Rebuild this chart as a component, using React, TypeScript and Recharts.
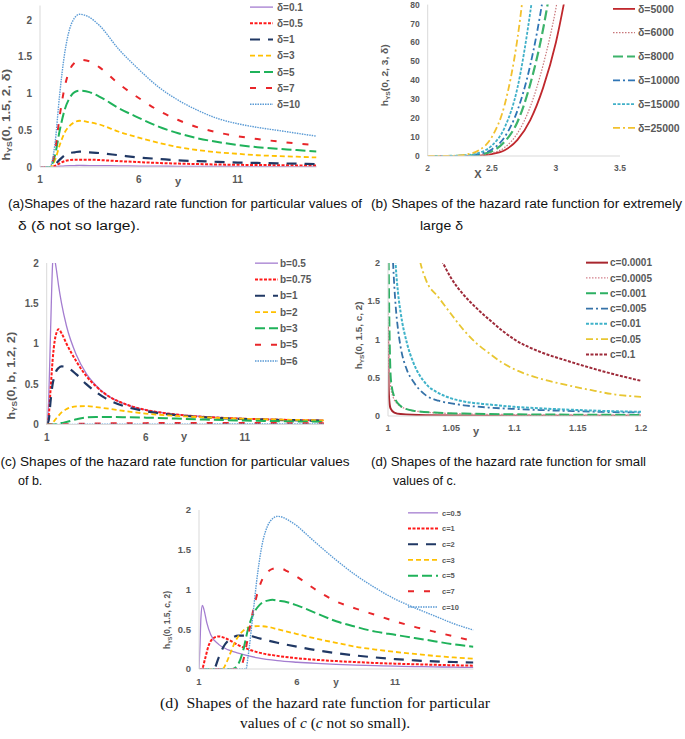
import { LineChart, Line, XAxis, YAxis, Legend, Label } from "recharts";

// ---------- (a) delta not so large ----------
const aX = [1, 1.5, 1.75, 2, 2.25, 2.5, 2.75, 3, 3.5, 4, 5, 6, 7, 8, 9, 10, 11, 12, 13, 14, 15];
const aD01 = [0, 0, 0.003, 0.01, 0.016, 0.019, 0.02, 0.021, 0.02, 0.019, 0.016, 0.013, 0.011, 0.009, 0.008, 0.007, 0.006, 0.0055, 0.005, 0.0045, 0.004];
const aD05 = [0, 0, 0.015, 0.05, 0.08, 0.095, 0.1, 0.1, 0.1, 0.095, 0.08, 0.067, 0.055, 0.046, 0.04, 0.034, 0.03, 0.027, 0.025, 0.022, 0.02];
const aD1 = [0, 0, 0.03, 0.1, 0.16, 0.19, 0.2, 0.21, 0.2, 0.19, 0.16, 0.13, 0.11, 0.09, 0.08, 0.07, 0.06, 0.055, 0.05, 0.045, 0.04];
const aD3 = [0, 0, 0.09, 0.3, 0.47, 0.56, 0.61, 0.63, 0.61, 0.58, 0.48, 0.4, 0.33, 0.27, 0.23, 0.2, 0.18, 0.16, 0.15, 0.14, 0.13];
const aD5 = [0, 0, 0.15, 0.5, 0.78, 0.94, 1.02, 1.04, 1.02, 0.96, 0.8, 0.67, 0.55, 0.46, 0.39, 0.34, 0.3, 0.27, 0.25, 0.23, 0.21];
const aD7 = [0, 0, 0.21, 0.7, 1.09, 1.32, 1.42, 1.46, 1.44, 1.36, 1.13, 0.94, 0.77, 0.64, 0.54, 0.47, 0.42, 0.38, 0.35, 0.32, 0.3];
const aD10 = [0, 0, 0.3, 1.0, 1.55, 1.88, 2.03, 2.08, 2.04, 1.93, 1.6, 1.33, 1.09, 0.91, 0.77, 0.66, 0.59, 0.54, 0.5, 0.46, 0.42];

// ---------- (b) extremely large delta ----------
const bX = [2, 2.1, 2.2, 2.3, 2.4, 2.5, 2.6, 2.7, 2.8, 2.9, 3.0, 3.1];
const bD5000 = [0, 0, 0.01, 0.05, 0.25, 1, 3, 8.5, 19, 36, 60, 94];
const bD6000 = [0, 0, 0.02, 0.1, 0.4, 1.5, 4.5, 12, 26, 48, 78, 120];
const bD8000 = [0, 0, 0.03, 0.15, 0.7, 2.5, 7.5, 18, 38, 67, 108, 160];
const bD10000 = [0, 0, 0.05, 0.2, 1, 3.5, 10, 24, 48, 84, 135, 200];
const bD15000 = [0, 0.01, 0.05, 0.4, 1.6, 5.5, 15, 36, 76, 130, 200, 280];
const bD25000 = [0, 0.02, 0.1, 0.8, 3, 10, 27, 62, 120, 190, 280, 380];

// ---------- (c) values of b ----------
const cX = [1, 1.1, 1.2, 1.3, 1.35, 1.4, 1.5, 1.6, 1.75, 2, 2.5, 3, 3.5, 4, 5, 6, 7, 8, 9, 10, 11, 12, 13, 14, 15];
const cB05 = [0, 0.3, 1.2, 2.0, 2.1, 2.05, 1.9, 1.72, 1.5, 1.22, 0.86, 0.63, 0.48, 0.37, 0.25, 0.18, 0.14, 0.115, 0.097, 0.084, 0.074, 0.066, 0.06, 0.055, 0.05];
const cB075 = [0, 0.1, 0.45, 0.8, 0.93, 1.03, 1.14, 1.18, 1.13, 1.0, 0.78, 0.6, 0.47, 0.37, 0.25, 0.18, 0.14, 0.112, 0.094, 0.081, 0.071, 0.064, 0.058, 0.053, 0.048];
const cB1 = [0, 0.05, 0.3, 0.5, 0.56, 0.61, 0.67, 0.7, 0.72, 0.71, 0.62, 0.5, 0.4, 0.32, 0.22, 0.165, 0.13, 0.105, 0.089, 0.077, 0.068, 0.061, 0.055, 0.05, 0.046];
const cB2 = [0, 0, 0, 0.02, 0.035, 0.05, 0.08, 0.11, 0.15, 0.19, 0.225, 0.227, 0.215, 0.2, 0.165, 0.135, 0.115, 0.1, 0.088, 0.079, 0.071, 0.065, 0.06, 0.055, 0.05];
const cB3 = [0, 0, 0, 0, 0, 0, 0.005, 0.01, 0.018, 0.03, 0.065, 0.088, 0.092, 0.093, 0.09, 0.085, 0.078, 0.069, 0.061, 0.054, 0.048, 0.044, 0.04, 0.037, 0.035];
const cB5 = [0, 0, 0, 0, 0, 0, 0, 0, 0.001, 0.003, 0.007, 0.01, 0.012, 0.014, 0.016, 0.017, 0.018, 0.018, 0.018, 0.018, 0.018, 0.018, 0.017, 0.017, 0.017];
const cB6 = [0, 0, 0, 0, 0, 0, 0, 0, 0, 0.001, 0.002, 0.003, 0.003, 0.004, 0.004, 0.005, 0.005, 0.005, 0.005, 0.006, 0.006, 0.006, 0.006, 0.006, 0.006];

// ---------- (d) small values of c ----------
const dC00001X = [1, 1.0005, 1.001, 1.002, 1.005, 1.01, 1.03, 1.06, 1.1, 1.15, 1.2];
const dC00001 = [1.17, 0.4, 0.2, 0.1, 0.045, 0.025, 0.01, 0.006, 0.004, 0.003, 0.002];
const dC00005X = [1, 1.001, 1.002, 1.004, 1.008, 1.015, 1.03, 1.06, 1.1, 1.15, 1.2];
const dC00005 = [1.5, 0.6, 0.4, 0.25, 0.15, 0.09, 0.05, 0.028, 0.018, 0.013, 0.01];
const dC0001X = [1, 1.0005, 1.001, 1.002, 1.003, 1.005, 1.01, 1.013, 1.02, 1.04, 1.06, 1.1, 1.15, 1.2];
const dC0001 = [2.4, 2.0, 1.3, 0.55, 0.38, 0.25, 0.13, 0.1, 0.07, 0.042, 0.032, 0.022, 0.017, 0.014];
const dC0005X = [1.002, 1.004, 1.006, 1.008, 1.01, 1.015, 1.02, 1.03, 1.04, 1.05, 1.06, 1.08, 1.1, 1.12, 1.14, 1.16, 1.18, 1.2];
const dC0005 = [2.8, 2.0, 1.45, 1.12, 0.9, 0.6, 0.45, 0.27, 0.2, 0.165, 0.14, 0.11, 0.092, 0.078, 0.067, 0.057, 0.05, 0.045];
const dC001X = [1.004, 1.006, 1.008, 1.01, 1.015, 1.02, 1.03, 1.04, 1.05, 1.06, 1.08, 1.1, 1.12, 1.14, 1.16, 1.18, 1.2];
const dC001 = [2.8, 2.0, 1.6, 1.35, 0.95, 0.7, 0.42, 0.3, 0.23, 0.19, 0.15, 0.12, 0.1, 0.085, 0.072, 0.062, 0.055];
const dC005X = [1.02, 1.025, 1.03, 1.04, 1.05, 1.06, 1.07, 1.08, 1.09, 1.1, 1.12, 1.14, 1.16, 1.18, 1.2];
const dC005 = [2.6, 2.05, 1.78, 1.55, 1.33, 1.12, 0.95, 0.82, 0.7, 0.61, 0.49, 0.41, 0.34, 0.28, 0.25];
const dC01X = [1.035, 1.04, 1.05, 1.06, 1.07, 1.08, 1.09, 1.1, 1.12, 1.14, 1.16, 1.18, 1.2];
const dC01 = [2.3, 2.12, 1.8, 1.58, 1.41, 1.26, 1.12, 1.0, 0.84, 0.73, 0.63, 0.54, 0.46];

// ---------- (e) c not so small ----------
const eC05X = [1, 1.05, 1.1, 1.17, 1.25, 1.4, 1.6, 2, 2.5, 3, 4, 5, 6, 7, 8, 9, 10, 11, 12, 13, 14, 15];
const eC05 = [0, 0.3, 0.65, 0.8, 0.75, 0.58, 0.43, 0.31, 0.24, 0.2, 0.14, 0.105, 0.085, 0.07, 0.058, 0.049, 0.042, 0.036, 0.031, 0.027, 0.023, 0.02];
const eC1X = [1, 1.15, 1.3, 1.5, 1.75, 2, 2.5, 3, 3.5, 4, 5, 6, 7, 8, 9, 10, 11, 12, 13, 14, 15];
const eC1 = [0, 0, 0.12, 0.3, 0.39, 0.41, 0.37, 0.3, 0.25, 0.21, 0.165, 0.135, 0.115, 0.1, 0.087, 0.076, 0.067, 0.06, 0.053, 0.047, 0.042];
const eC2X = [1, 1.75, 2, 2.25, 2.5, 2.75, 3, 3.5, 4, 5, 6, 7, 8, 9, 10, 11, 12, 13, 14, 15];
const eC2 = [0, 0, 0.14, 0.28, 0.36, 0.4, 0.42, 0.42, 0.39, 0.33, 0.28, 0.235, 0.2, 0.17, 0.145, 0.125, 0.108, 0.096, 0.088, 0.082];
const eC3X = [1, 2.2, 2.4, 2.6, 2.8, 3, 3.25, 3.5, 4, 4.5, 5, 6, 7, 8, 9, 10, 11, 12, 13, 14, 15];
const eC3 = [0, 0, 0.08, 0.2, 0.32, 0.41, 0.48, 0.52, 0.54, 0.53, 0.5, 0.44, 0.38, 0.33, 0.28, 0.245, 0.215, 0.19, 0.165, 0.145, 0.13];
const eC5X = [1, 2.7, 3, 3.25, 3.5, 3.75, 4, 4.25, 4.5, 4.75, 5, 5.5, 6, 7, 8, 9, 10, 11, 12, 13, 14, 15];
const eC5 = [0, 0, 0.06, 0.23, 0.5, 0.68, 0.78, 0.84, 0.86, 0.87, 0.86, 0.84, 0.8, 0.7, 0.6, 0.53, 0.47, 0.43, 0.39, 0.35, 0.31, 0.28];
const eC7X = [1, 3.1, 3.25, 3.5, 3.75, 4, 4.25, 4.5, 4.75, 5, 5.25, 5.5, 6, 7, 8, 9, 10, 11, 12, 13, 14, 15];
const eC7 = [0, 0, 0.1, 0.4, 0.72, 0.97, 1.14, 1.22, 1.26, 1.27, 1.26, 1.23, 1.16, 0.99, 0.85, 0.76, 0.68, 0.6, 0.53, 0.47, 0.41, 0.35];
const eC10X = [1, 3.4, 3.5, 3.75, 4, 4.25, 4.5, 4.75, 5, 5.25, 5.5, 6, 6.5, 7, 8, 9, 10, 11, 12, 13, 14, 15];
const eC10 = [0, 0, 0.15, 0.68, 1.22, 1.6, 1.8, 1.89, 1.92, 1.91, 1.88, 1.8, 1.69, 1.58, 1.37, 1.18, 1.02, 0.88, 0.77, 0.67, 0.57, 0.49];

const FONT = "'Liberation Sans', Arial, sans-serif";
const GREY = "#595959";
const AXIS = "#d9d9d9";

type Series = { name: string; xs: number[]; ys: number[]; color: string; dash?: string; w: number };

// excel-like line styles
const solidPurple = { color: "#a47dd0", w: 1.3 };
const sqDotRed = { color: "#ff1a1a", dash: "3 1.5", w: 2 };
const longNavy = { color: "#203864", dash: "10 8", w: 2.2 };
const dashYellow = { color: "#ffc000", dash: "5 3", w: 1.8 };
const longGreen = { color: "#1fb25a", dash: "10 4", w: 2 };
const dashRed = { color: "#e8262a", dash: "6 10", w: 2 };
const dotBlue = { color: "#5b9bd5", dash: "1.5 1", w: 1.4 };

const aSeries: Series[] = [
  { name: "δ=0.1", xs: aX, ys: aD01, ...solidPurple },
  { name: "δ=0.5", xs: aX, ys: aD05, ...sqDotRed },
  { name: "δ=1", xs: aX, ys: aD1, ...longNavy },
  { name: "δ=3", xs: aX, ys: aD3, ...dashYellow },
  { name: "δ=5", xs: aX, ys: aD5, ...longGreen },
  { name: "δ=7", xs: aX, ys: aD7, ...dashRed },
  { name: "δ=10", xs: aX, ys: aD10, ...dotBlue },
];

const bSeries: Series[] = [
  { name: "δ=5000", xs: bX, ys: bD5000, color: "#c0282d", w: 1.8 },
  { name: "δ=6000", xs: bX, ys: bD6000, color: "#c8767a", dash: "1.5 1.5", w: 1.2 },
  { name: "δ=8000", xs: bX, ys: bD8000, color: "#3db36b", dash: "10 4", w: 2.2 },
  { name: "δ=10000", xs: bX, ys: bD10000, color: "#2f75b5", dash: "7 3 2 3", w: 1.8 },
  { name: "δ=15000", xs: bX, ys: bD15000, color: "#40b0c8", dash: "3 1.5", w: 1.8 },
  { name: "δ=25000", xs: bX, ys: bD25000, color: "#f2c12e", dash: "7 3 2 3", w: 1.8 },
];

const cSeries: Series[] = [
  { name: "b=0.5", xs: cX, ys: cB05, ...solidPurple },
  { name: "b=0.75", xs: cX, ys: cB075, ...sqDotRed },
  { name: "b=1", xs: cX, ys: cB1, ...longNavy },
  { name: "b=2", xs: cX, ys: cB2, ...dashYellow },
  { name: "b=3", xs: cX, ys: cB3, ...longGreen },
  { name: "b=5", xs: cX, ys: cB5, ...dashRed },
  { name: "b=6", xs: cX, ys: cB6, ...dotBlue },
];

const dSeries: Series[] = [
  { name: "c=0.0001", xs: dC00001X, ys: dC00001, color: "#a8262e", w: 2 },
  { name: "c=0.0005", xs: dC00005X, ys: dC00005, color: "#d4818c", dash: "1.5 1.5", w: 1.3 },
  { name: "c=0.001", xs: dC0001X, ys: dC0001, color: "#2db063", dash: "10 4", w: 2 },
  { name: "c=0.005", xs: dC0005X, ys: dC0005, color: "#3572a8", dash: "7 3 2 3", w: 1.8 },
  { name: "c=0.01", xs: dC001X, ys: dC001, color: "#3fb2c9", dash: "3 1.5", w: 2 },
  { name: "c=0.05", xs: dC005X, ys: dC005, color: "#e8c632", dash: "7 3 2 3", w: 1.8 },
  { name: "c=0.1", xs: dC01X, ys: dC01, color: "#9e2b3a", dash: "3 1.5", w: 2 },
];

const eSeries: Series[] = [
  { name: "c=0.5", xs: eC05X, ys: eC05, ...solidPurple },
  { name: "c=1", xs: eC1X, ys: eC1, ...sqDotRed },
  { name: "c=2", xs: eC2X, ys: eC2, ...longNavy },
  { name: "c=3", xs: eC3X, ys: eC3, ...dashYellow },
  { name: "c=5", xs: eC5X, ys: eC5, ...longGreen },
  { name: "c=7", xs: eC7X, ys: eC7, ...dashRed },
  { name: "c=10", xs: eC10X, ys: eC10, ...dotBlue },
];

type PanelProps = {
  left: number;
  top: number;
  width: number;
  height: number;
  plot: { l: number; r: number; t: number; b: number };
  xDomain: [number, number];
  xTicks: number[];
  yDomain: [number, number];
  yTicks: number[];
  tickSize: number;
  series: Series[];
  legend: { x: number; y: number; gap: number; len: number; textDx: number; fs: number };
  yLabel: { x: number; y: number; args: string; fs: number; len: number };
  xLabel: { x: number; y: number; text: string; fs: number };
};

const Panel = (p: PanelProps) => {
  const tick = { fill: GREY, fontSize: p.tickSize, fontWeight: "bold", fontFamily: FONT };
  return (
    <div style={{ position: "absolute", left: p.left, top: p.top, width: p.width, height: p.height }}>
      <LineChart
        width={p.width}
        height={p.height}
        margin={{ top: p.plot.t, right: p.width - p.plot.r, bottom: 0, left: 0 }}
      >
        <XAxis
          type="number"
          dataKey="x"
          domain={p.xDomain}
          ticks={p.xTicks}
          interval={0}
          allowDataOverflow
          height={p.height - p.plot.b}
          stroke={AXIS}
          tickLine={false}
          tickSize={7}
          tickMargin={2}
          tick={tick}
        >
          <Label
            content={() => (
              <text x={p.xLabel.x} y={p.xLabel.y} textAnchor="middle" fill={GREY} fontSize={p.xLabel.fs} fontWeight="bold" fontFamily={FONT}>
                {p.xLabel.text}
              </text>
            )}
          />
        </XAxis>
        <YAxis
          type="number"
          domain={p.yDomain}
          ticks={p.yTicks}
          interval={0}
          allowDataOverflow
          width={p.plot.l}
          stroke={AXIS}
          tickLine={false}
          tickSize={5}
          tickMargin={3}
          tick={tick}
        >
          <Label
            content={() => (
              <text
                transform={`translate(${p.yLabel.x},${p.yLabel.y + p.yLabel.fs * 0.35}) rotate(-90)`}
                textAnchor="middle"
                fill={GREY}
                fontSize={p.yLabel.fs}
                fontWeight="bold"
                fontFamily={FONT}
                textLength={p.yLabel.len}
                lengthAdjust="spacingAndGlyphs"
              >
                h
                <tspan fontSize={p.yLabel.fs * 0.65} dy={p.yLabel.fs * 0.2}>
                  YS
                </tspan>
                <tspan dy={-p.yLabel.fs * 0.2}>{p.yLabel.args}</tspan>
              </text>
            )}
          />
        </YAxis>
        {p.series.map((s) => (
          <Line
            key={s.name}
            data={s.xs.map((x, i) => ({ x, y: s.ys[i] }))}
            dataKey="y"
            type="monotone"
            stroke={s.color}
            strokeWidth={s.w}
            strokeDasharray={s.dash}
            dot={false}
            activeDot={false}
            isAnimationActive={false}
          />
        ))}
        <Legend
          layout="vertical"
          align="center"
          verticalAlign="middle"
          wrapperStyle={{ position: "absolute", left: p.legend.x, top: p.legend.y, width: "auto", height: "auto" }}
          content={() => (
            <svg width={p.legend.textDx + 60} height={p.legend.gap * p.series.length} style={{ display: "block" }}>
              {p.series.map((s, i) => {
                const cy = p.legend.gap * i + p.legend.gap / 2;
                return (
                  <g key={s.name}>
                    <line x1={0} x2={p.legend.len} y1={cy} y2={cy} stroke={s.color} strokeWidth={s.w} strokeDasharray={s.dash} />
                    <text x={p.legend.textDx} y={cy + p.legend.fs * 0.36} fill={GREY} fontSize={p.legend.fs} fontWeight="bold" fontFamily={FONT}>
                      {s.name}
                    </text>
                  </g>
                );
              })}
            </svg>
          )}
        />
      </LineChart>
    </div>
  );
};

const CAP = "'Liberation Sans', Arial, sans-serif";
const SERIF = "'Liberation Serif', 'Times New Roman', serif";

const Captions = () => (
  <svg width={685} height={739} style={{ position: "absolute", left: 0, top: 0, pointerEvents: "none" }}>
    <g fontFamily={CAP} fontSize={12.5} fill="#111">
      <text x={8} y={207.5} textLength={354} lengthAdjust="spacingAndGlyphs">
        (a)Shapes of the hazard rate function for particular values of
      </text>
      <text x={18} y={229.5} textLength={122} lengthAdjust="spacingAndGlyphs">
        δ (δ not so large).
      </text>
      <text x={371} y={207.5} textLength={311} lengthAdjust="spacingAndGlyphs">
        (b) Shapes of the hazard rate function for extremely
      </text>
      <text x={420} y={229.5} textLength={43} lengthAdjust="spacingAndGlyphs">
        large δ
      </text>
      <text x={0.5} y={466} textLength={349} lengthAdjust="spacingAndGlyphs">
        (c) Shapes of the hazard rate function for particular values
      </text>
      <text x={18} y={485}>of b.</text>
      <text x={371} y={466} textLength={275} lengthAdjust="spacingAndGlyphs">
        (d) Shapes of the hazard rate function for small
      </text>
      <text x={393} y={485}>values of c.</text>
    </g>
    <g fontFamily={SERIF} fontSize={15} fill="#111">
      <text x={160} y={708} textLength={330} lengthAdjust="spacingAndGlyphs" xmlSpace="preserve">
        (d)  Shapes of the hazard rate function for particular
      </text>
      <text x={240} y={728} textLength={170} lengthAdjust="spacingAndGlyphs">
        values of <tspan fontStyle="italic">c</tspan> (<tspan fontStyle="italic">c</tspan> not so small).
      </text>
    </g>
  </svg>
);

export default function App() {
  return (
    <div style={{ position: "absolute", left: 0, top: 0, width: 685, height: 739, background: "#fff" }}>
      <Captions />
      <Panel
        left={0}
        top={0}
        width={345}
        height={190}
        plot={{ l: 40, r: 316.5, t: 5.5, b: 167 }}
        xDomain={[1, 15]}
        xTicks={[1, 6, 11]}
        yDomain={[0, 2.2]}
        yTicks={[0, 0.5, 1, 1.5, 2]}
        tickSize={10}
        series={aSeries}
        legend={{ x: 250, y: -1.4, gap: 16.2, len: 23, textDx: 27, fs: 10 }}
        yLabel={{ x: 9.5, y: 111, args: "(0, 1.5, 2, δ)", fs: 11, len: 92 }}
        xLabel={{ x: 178, y: 185, text: "y", fs: 11 }}
      />
      <Panel
        left={345}
        top={0}
        width={340}
        height={190}
        plot={{ l: 82.7, r: 275, t: 4.6, b: 156 }}
        xDomain={[2, 3.5]}
        xTicks={[2, 2.5, 3, 3.5]}
        yDomain={[0, 80]}
        yTicks={[0, 10, 20, 30, 40, 50, 60, 70, 80]}
        tickSize={8.5}
        series={bSeries}
        legend={{ x: 268, y: -2.9, gap: 23.8, len: 22, textDx: 25, fs: 10.5 }}
        yLabel={{ x: 43, y: 72, args: "(0, 2, 3, δ)", fs: 9.5, len: 62 }}
        xLabel={{ x: 133, y: 178, text: "X", fs: 11 }}
      />
      <Panel
        left={0}
        top={230}
        width={345}
        height={215}
        plot={{ l: 46.7, r: 323.9, t: 33, b: 194.5 }}
        xDomain={[1, 15]}
        xTicks={[1, 6, 11]}
        yDomain={[0, 2]}
        yTicks={[0, 0.5, 1, 1.5, 2]}
        tickSize={10}
        series={cSeries}
        legend={{ x: 255, y: 24.85, gap: 16.3, len: 23, textDx: 25, fs: 10 }}
        yLabel={{ x: 15, y: 142, args: "(0, b, 1.2, 2)", fs: 11, len: 88 }}
        xLabel={{ x: 184, y: 210, text: "y", fs: 11 }}
      />
      <Panel
        left={345}
        top={230}
        width={340}
        height={215}
        plot={{ l: 43, r: 296, t: 33, b: 186 }}
        xDomain={[1, 1.2]}
        xTicks={[1, 1.05, 1.1, 1.15, 1.2]}
        yDomain={[0, 2]}
        yTicks={[0, 0.5, 1, 1.5, 2]}
        tickSize={9}
        series={dSeries}
        legend={{ x: 241, y: 25.35, gap: 15.3, len: 22, textDx: 24, fs: 10 }}
        yLabel={{ x: 17, y: 102, args: "(0, 1.5, c, 2)", fs: 9.5, len: 68 }}
        xLabel={{ x: 131, y: 205, text: "y", fs: 11 }}
      />
      <Panel
        left={160}
        top={495}
        width={360}
        height={200}
        plot={{ l: 39, r: 313.4, t: 15, b: 174 }}
        xDomain={[1, 15]}
        xTicks={[1, 6, 11]}
        yDomain={[0, 2]}
        yTicks={[0, 0.5, 1, 1.5, 2]}
        tickSize={9.5}
        series={eSeries}
        legend={{ x: 248, y: 10.15, gap: 15.7, len: 30, textDx: 34, fs: 7.5 }}
        yLabel={{ x: 10, y: 122, args: "(0, 1.5, c, 2)", fs: 8.5, len: 58 }}
        xLabel={{ x: 176, y: 191, text: "y", fs: 10 }}
      />
    </div>
  );
}
